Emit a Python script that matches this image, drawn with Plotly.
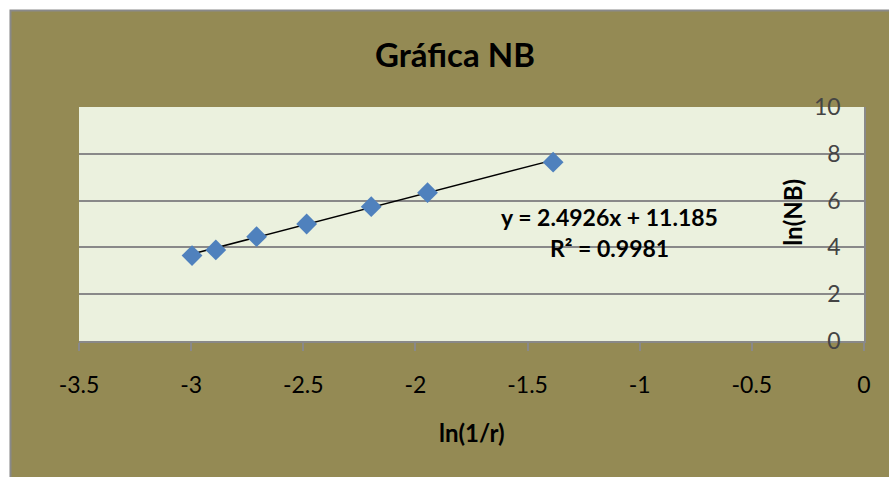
import plotly.graph_objects as go

# ln(1/r) and ln(NB) measurements
ln_inv_r = [-2.996, -2.890, -2.708, -2.485, -2.197, -1.946, -1.386]
ln_nb = [3.65, 3.89, 4.46, 5.00, 5.74, 6.34, 7.64]

# linear trendline reported on the chart
slope = 2.4926
intercept = 11.185
r_squared = 0.9981

x_tick_vals = [-3.5, -3.0, -2.5, -2.0, -1.5, -1.0, -0.5, 0.0]
x_tick_text = ["-3.5", "-3", "-2.5", "-2", "-1.5", "-1", "-0.5", "0"]
y_tick_vals = [0, 2, 4, 6, 8, 10]
y_tick_text = ["0", "2", "4", "6", "8", "10"]

FONT = "Lato, Liberation Sans, sans-serif"
OLIVE = "#948A54"
PLOT_BG = "#EBF1DE"
GRID = "#898989"
BLUE = "#4F81BD"

trend_x = [min(ln_inv_r), max(ln_inv_r)]
trend_y = [slope * v + intercept for v in trend_x]

fig = go.Figure()
fig.add_trace(go.Scatter(
    x=trend_x, y=trend_y, mode="lines",
    line=dict(color="black", width=1.5), hoverinfo="skip", showlegend=False,
))
fig.add_trace(go.Scatter(
    x=ln_inv_r, y=ln_nb, mode="markers",
    marker=dict(symbol="diamond", size=16, color=BLUE, line=dict(width=0)),
    showlegend=False,
))


def label(text, x, y, size, angle=0):
    return dict(text=text, xref="paper", yref="paper", x=x, y=y,
                xanchor="center", yanchor="middle", showarrow=False,
                textangle=angle, font=dict(size=size))


fig.update_layout(
    width=889, height=477,
    margin=dict(l=79, r=25, t=107, b=136),
    paper_bgcolor="white",
    plot_bgcolor=PLOT_BG,
    font=dict(family=FONT, color="black"),
    shapes=[
        # chart frame
        dict(type="rect", xref="paper", yref="paper", layer="below",
             x0=-0.0873, x1=1.2, y0=-0.8, y1=1.4124,
             fillcolor=OLIVE, line=dict(color="#898989", width=2)),
        # plot area
        dict(type="rect", xref="paper", yref="paper", layer="below",
             x0=0, x1=1, y0=0, y1=1,
             fillcolor=PLOT_BG, line=dict(width=0)),
    ],
    annotations=[
        label("<b>Gráfica NB</b>", 0.479, 1.226, 33),
        label(f"<b>y = {slope}x + {intercept}</b>", 0.676, 0.530, 23),
        label(f"<b>R² = {r_squared}</b>", 0.676, 0.397, 23),
        label("<b>ln(1/r)</b>", 0.5, -0.393, 24),
        label("<b>ln(NB)</b>", 0.908, 0.551, 24, angle=-90),
    ],
)

fig.update_xaxes(
    range=[-3.5, 0], tickvals=x_tick_vals, ticktext=x_tick_text,
    showgrid=False, zeroline=False,
    showline=True, linecolor=GRID, linewidth=2,
    ticks="outside", ticklen=8, tickwidth=1.5, tickcolor=GRID,
    tickfont=dict(size=23), ticklabelstandoff=14,
)
fig.update_yaxes(
    range=[0, 10], tickvals=y_tick_vals, ticktext=y_tick_text,
    side="right", ticklabelposition="inside", ticklabeloverflow="allow",
    showgrid=True, gridcolor=GRID, gridwidth=2, zeroline=False,
    showline=True, linecolor=GRID, linewidth=2, ticks="",
    tickfont=dict(size=23), ticklabelstandoff=25,
)

fig.write_html("out.html")
